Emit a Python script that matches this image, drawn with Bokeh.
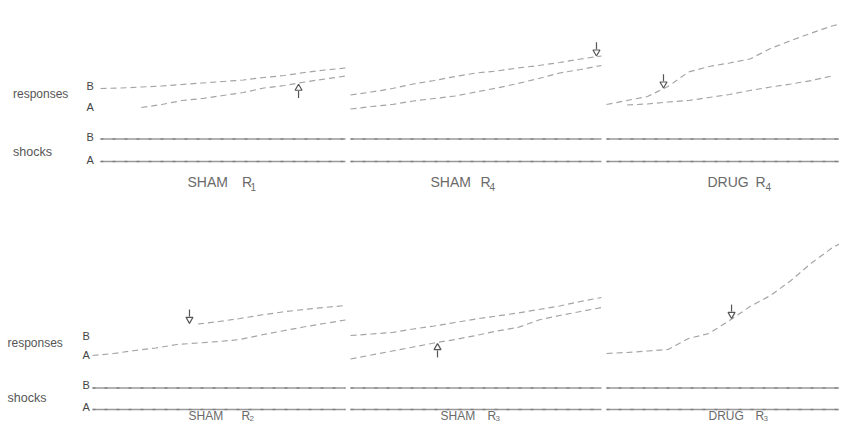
import numpy as np
from bokeh.plotting import figure
from bokeh.models import Range1d
from bokeh.core.properties import value
from bokeh.embed import file_html
from bokeh.resources import INLINE

# ---------------- data (cumulative records, 60-min sessions) ----------------
minutes = [0, 5, 10, 15, 20, 25, 30, 35, 40, 45, 50, 55, 60]
nan = float("nan")

# cumulative responses (counts) for pen B and pen A in each session
sham_r1_B = [48, 49, 51, 53, 56, 59, 62, 65, 70, 74, 80, 85, 89]
sham_r1_A = [nan, nan, 10, 16, 24, 28, 34, 40, 49, 54, 61, 67, 73]
sham_r4_B = [35, 41, 48, 57, 64, 72, 79, 83, 89, 94, 100, 107, 113]
sham_r4_A = [7, 12, 16, 23, 28, 33, 41, 49, 58, 68, 79, 86, 94]
drug_r4_B = [16, 24, 32, 52, 81, 92, 99, 107, 128, 144, 159, 173, 182]
drug_r4_A = [nan, 15, 17, 21, 24, 30, 36, 44, 51, 57, 64, 73, nan]
sham_r2_B = [nan, nan, nan, nan, nan, 73, 78, 84, 91, 97, 102, 106, 110]
sham_r2_A = [10, 14, 20, 25, 32, 35, 38, 42, 51, 59, 67, 74, 81]
sham_r3_B = [50, 53, 56, 63, 69, 76, 83, 89, 95, 102, 109, 118, 126]
sham_r3_A = [3, 11, 19, 27, 35, 42, 50, 59, 66, 81, 90, 98, 106]
drug_r3_B = [14, 16, 19, 22, 44, 54, 80, 108, 130, 160, 195, 225, 248]

# session titles
title_words = ["SHAM", "SHAM", "DRUG", "SHAM", "SHAM", "DRUG"]
title_subs = ["1", "4", "4", "2", "3", "3"]

# injection arrows: time (min), which pen, direction
arrow_min = [48.5, 58.8, 13.9, 23.0, 20.8, 30.5]
arrow_pen = ["A", "B", "B", "B", "A", "B"]
arrow_dir = ["up", "down", "down", "down", "up", "down"]

# ---------------- layout ----------------
panel_x0 = [100, 350, 606, 92, 350, 606]
panel_x1 = [345, 601, 852, 345, 601, 852]
panel_row = [0, 0, 0, 1, 1, 1]
row_base = [112, 360]           # zero line of cumulative pens
row_shock_B = [138.5, 387.5]
row_shock_A = [161, 409]
row_title_y = [189, 422]        # bottom of text box
title_size = ["14px", "12px"]
sub_size = ["10px", "8px"]
sub_drop = [1.5, -1.5]
px_per_count = 0.5

word_x = [187, 430, 707, 188, 440, 708]
r_x = [241.5, 480, 755, 241, 487, 755]
sub_x = [250, 489, 765, 249, 495, 763]

curves_B = [sham_r1_B, sham_r4_B, drug_r4_B, sham_r2_B, sham_r3_B, drug_r3_B]
curves_A = [sham_r1_A, sham_r4_A, drug_r4_A, sham_r2_A, sham_r3_A, None]

p = figure(width=839, height=423, x_range=Range1d(0, 839), y_range=Range1d(423, 0),
           output_backend="svg", toolbar_location=None, min_border=0,
           x_axis_location=None, y_axis_location=None)
p.grid.visible = False
p.outline_line_color = None
p.background_fill_color = "white"

t = np.array(minutes, dtype=float)

def xs(i, tt):
    return panel_x0[i] + (panel_x1[i] - panel_x0[i]) * np.asarray(tt, dtype=float) / 60.0

def ys(i, counts):
    return row_base[panel_row[i]] - np.asarray(counts, dtype=float) * px_per_count

RESP = "#a4a4a4"
SHOCK = "#999999"
FONT = value("Liberation Sans")

for i in range(6):
    r = panel_row[i]
    # shock lines
    for yy in (row_shock_B[r], row_shock_A[r]):
        p.line([panel_x0[i], panel_x1[i]], [yy, yy], line_color=SHOCK, line_width=1.5)
        p.line([panel_x0[i], panel_x1[i]], [yy, yy], line_color="#6a6a6a", line_width=1.3,
               line_dash="3 9", line_alpha=0.6)
    # response curves
    for c in (curves_B[i], curves_A[i]):
        if c is None:
            continue
        p.line(xs(i, t), ys(i, c), line_color=RESP, line_width=1.2, line_dash="6 4")

    # arrow
    c = curves_B[i] if arrow_pen[i] == "B" else curves_A[i]
    arr = np.asarray(c, dtype=float)
    ok = ~np.isnan(arr)
    ax = float(xs(i, [arrow_min[i]])[0])
    cy = float(ys(i, [np.interp(arrow_min[i], t[ok], arr[ok])])[0])
    if arrow_dir[i] == "down":
        tip = cy - 1.5
        p.segment(ax, tip - 13, ax, tip - 6, line_color="#555555", line_width=1.2)
        p.scatter([ax], [tip - 3.2], marker="inverted_triangle", size=7,
                  fill_color="white", line_color="#555555", line_width=1.2)
    else:
        tip = cy + 2
        p.segment(ax, tip + 6, ax, tip + 13, line_color="#555555", line_width=1.2)
        p.scatter([ax], [tip + 3.2], marker="triangle", size=7,
                  fill_color="white", line_color="#555555", line_width=1.2)

    # titles
    ty = row_title_y[r]
    p.text([word_x[i]], [ty], text=[title_words[i]], text_font=FONT,
           text_font_size=title_size[r], text_color="#6a6a6a", text_baseline="bottom")
    p.text([r_x[i]], [ty], text=["R"], text_font=FONT,
           text_font_size=title_size[r], text_color="#6a6a6a", text_baseline="bottom")
    p.text([sub_x[i]], [ty + sub_drop[r]], text=[title_subs[i]], text_font=FONT,
           text_font_size=sub_size[r], text_color="#6a6a6a", text_baseline="bottom")

# row labels
resp_y = [100.5, 349.5]
shock_y = [158, 404]
label_x = [12.5, 7]
letter_x = [86, 82]
b_resp_y = [91.5, 341.5]
a_resp_y = [112.5, 360]
b_sh_y = [142.5, 390.5]
a_sh_y = [165, 412.5]
for r in range(2):
    p.text([label_x[r]], [resp_y[r]], text=["responses"], text_font=FONT,
           text_font_size="12px", text_color="#555555")
    p.text([label_x[r]], [shock_y[r]], text=["shocks"], text_font=FONT,
           text_font_size="12.5px", text_color="#555555")
    for yy, s in ((b_resp_y[r], "B"), (a_resp_y[r], "A"), (b_sh_y[r], "B"), (a_sh_y[r], "A")):
        p.text([letter_x[r]], [yy], text=[s], text_font=FONT,
               text_font_size="11px", text_color="#444444")

open("out.html", "w").write(file_html(p, INLINE))
